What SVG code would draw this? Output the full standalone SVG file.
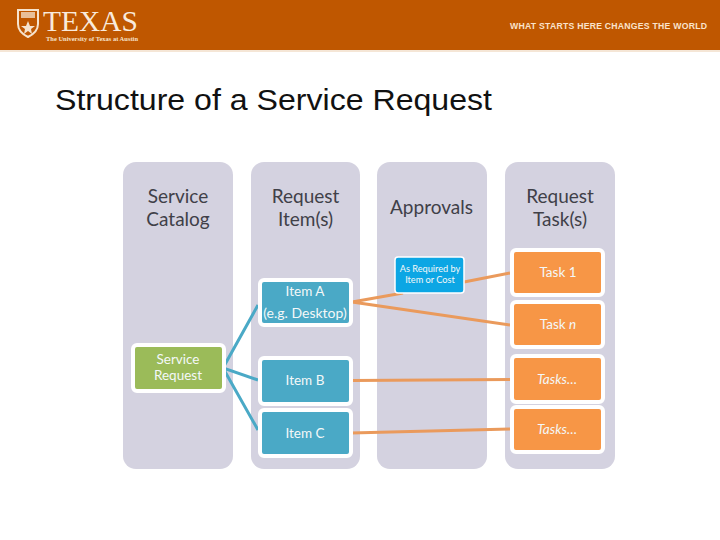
<svg xmlns="http://www.w3.org/2000/svg" width="720" height="540" viewBox="0 0 720 540">
<defs><style>
.col{fill:#d4d2e0}
.box{stroke:#fff;stroke-width:4}
.blue{fill:#4aa9c6}.org{fill:#f79646}.grn{fill:#9bbb59}
.t{font-family:Lato,"Open Sans",sans-serif;text-anchor:middle}
.h{font-size:19px;fill:#404048}
.w{font-size:13.500px;fill:#f4f8f8}
.bl{fill:none;stroke:#4aa9c6;stroke-width:3}
.ol{fill:none;stroke:#ea9a5c;stroke-width:3}
</style></defs>
<rect width="720" height="540" fill="#fff"/>
<g id="banner">
<rect width="720" height="50" fill="#bf5700"/>
<rect y="50" width="720" height="2" fill="#f5e6d6"/>
<path d="M18 10H38V24C38 31 32 35 28 37C24 35 18 31 18 24Z" fill="none" stroke="#f6e3cd" stroke-width="2"/>
<rect x="21" y="12" width="14" height="6" fill="#f6e3cd" opacity=".75"/>
<path d="M28 21L30 26H35L31 29L32 34L28 31L24 34L25 29L21 26H26Z" fill="#f6e3cd"/>
<text x="43" y="31" font-family="Liberation Serif,serif" font-size="30" fill="#f9eadb" textLength="95" lengthAdjust="spacingAndGlyphs">TEXAS</text>
<text x="46" y="41" font-family="Liberation Serif,serif" font-size="6" font-weight="bold" fill="#f6e3cd" textLength="92" lengthAdjust="spacingAndGlyphs">The University of Texas at Austin</text>
<text x="510" y="29" font-family="Liberation Sans,sans-serif" font-size="8.700" font-weight="bold" fill="#fae3cc" textLength="197" lengthAdjust="spacing">WHAT STARTS HERE CHANGES THE WORLD</text>
</g>
<text id="title" x="55" y="110" font-family="Liberation Sans,sans-serif" font-size="29.300" fill="#111" textLength="437" lengthAdjust="spacingAndGlyphs">Structure of a Service Request</text>
<g id="columns">
<rect class="col" x="123" y="162" width="110" height="307" rx="13"/>
<rect class="col" x="251" y="162" width="109" height="307" rx="13"/>
<rect class="col" x="377" y="162" width="110" height="307" rx="13"/>
<rect class="col" x="505" y="162" width="110" height="307" rx="13"/>
<g class="t h">
<text x="178" y="203">Service</text><text x="178" y="226">Catalog</text>
<text x="305.500" y="203">Request</text><text x="305.500" y="226">Item(s)</text>
<text x="431.500" y="214">Approvals</text>
<text x="560" y="203">Request</text><text x="560" y="226">Task(s)</text>
</g>
</g>
<g id="connectors">
<path class="bl" d="M258 305L223 368L258 380M223 368L258 430"/>
<path class="ol" d="M352 302L403 293M464 282L510 273M352 302L510 325"/>
<path class="ol" d="M352 380.500L510 379.500M351 433L510 429"/>
</g>
<g id="service-request"><rect class="box grn" x="133" y="345" width="91" height="46" rx="4"/><text class="t w" x="178" y="364">Service</text><text class="t w" x="178" y="380">Request</text></g>
<g id="item-a"><rect class="box blue" x="260" y="280" width="91" height="45" rx="4"/><text class="t w" x="305" y="296">Item A</text><text class="t w" x="305" y="318" style="font-size:14px">(e.g. Desktop)</text></g>
<g id="item-b"><rect class="box blue" x="260" y="358" width="91" height="46" rx="4"/><text class="t w" x="305" y="385">Item B</text></g>
<g id="item-c"><rect class="box blue" x="260" y="410" width="91" height="46" rx="4"/><text class="t w" x="305" y="438">Item C</text></g>
<g id="approval"><rect x="395" y="257" width="69" height="36" rx="3" fill="#0ca6e4" stroke="#fff" stroke-width="1.500"/><text class="t" x="430" y="272" font-size="9.200" fill="#f4f8f8">As Required by</text><text class="t" x="430" y="283" font-size="9.200" fill="#f4f8f8">Item or Cost</text></g>
<g id="task-1"><rect class="box org" x="512" y="250" width="91" height="45" rx="4"/><text class="t w" x="558" y="277">Task 1</text></g>
<g id="task-n"><rect class="box org" x="512" y="302" width="91" height="45" rx="4"/><text class="t w" x="558" y="329">Task <tspan font-style="italic">n</tspan></text></g>
<g id="tasks-1"><rect class="box org" x="512" y="356" width="91" height="46" rx="4"/><text class="t w" x="557" y="384" font-style="italic">Tasks…</text></g>
<g id="tasks-2"><rect class="box org" x="512" y="407" width="91" height="45" rx="4"/><text class="t w" x="557" y="434" font-style="italic">Tasks…</text></g>
</svg>
